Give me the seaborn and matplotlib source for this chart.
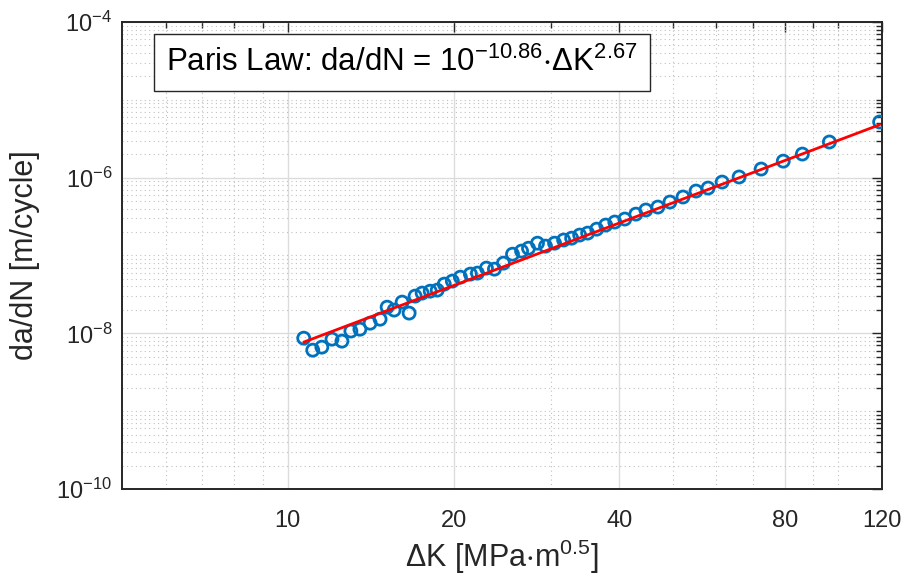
import numpy as np
import pandas as pd
import seaborn as sns
import matplotlib
matplotlib.use("Agg")
import matplotlib.pyplot as plt
from matplotlib.ticker import FixedLocator, NullFormatter, FixedFormatter

# stress intensity factor range [MPa m^0.5]
dK = [10.69, 11.10, 11.53, 12.03, 12.54, 13.02, 13.52, 14.11, 14.71, 15.15,
      15.60, 16.13, 16.61, 17.03, 17.54, 18.14, 18.68, 19.24, 19.90, 20.58,
      21.46, 22.10, 22.95, 23.73, 24.64, 25.59, 26.58, 27.36, 28.41, 29.38,
      30.51, 31.69, 32.77, 33.89, 35.04, 36.39, 37.79, 39.25, 40.93, 42.87,
      44.70, 47.00, 49.43, 52.21, 55.13, 57.98, 61.49, 66.01, 72.39, 79.40,
      86.00, 96.29, 118.8]
# crack growth rate [m/cycle]
dadN = [8.67e-9, 6.08e-9, 6.65e-9, 8.42e-9, 7.94e-9, 1.07e-8, 1.13e-8, 1.35e-8,
        1.52e-8, 2.17e-8, 1.99e-8, 2.52e-8, 1.82e-8, 3.01e-8, 3.29e-8, 3.48e-8,
        3.59e-8, 4.29e-8, 4.69e-8, 5.27e-8, 5.77e-8, 5.94e-8, 6.89e-8, 6.68e-8,
        7.98e-8, 1.04e-7, 1.14e-7, 1.24e-7, 1.44e-7, 1.32e-7, 1.44e-7, 1.58e-7,
        1.67e-7, 1.83e-7, 1.94e-7, 2.18e-7, 2.46e-7, 2.69e-7, 2.94e-7, 3.40e-7,
        3.84e-7, 4.19e-7, 4.86e-7, 5.64e-7, 6.73e-7, 7.35e-7, 8.78e-7, 1.02e-6,
        1.29e-6, 1.63e-6, 2.01e-6, 2.87e-6, 5.19e-6]
# Paris law fit: da/dN = 10^logC * dK^m
logC = -10.86
m = 2.67

xticks = [10, 20, 40, 80, 120]
xminor = [6, 7, 8, 9, 30, 50, 60, 70, 90, 100]
yticks = [1e-10, 1e-8, 1e-6, 1e-4]

sns.set_style("white")
plt.rcParams['font.family'] = ['Liberation Sans', 'DejaVu Sans']
plt.rcParams['mathtext.fontset'] = 'custom'
plt.rcParams['mathtext.rm'] = 'Liberation Sans'
plt.rcParams['mathtext.it'] = 'Liberation Sans:italic'
plt.rcParams['mathtext.default'] = 'regular'

df = pd.DataFrame({"dK": dK, "dadN": dadN})
kfit = np.array([min(dK), max(dK)])
fit = pd.DataFrame({"dK": kfit, "dadN": 10**logC * kfit**m})

fig = plt.figure(figsize=(9.08, 5.83), dpi=100)
ax = fig.add_axes([0.1344, 0.1612, 0.837, 0.8011])
ax.set_xscale("log")
ax.set_yscale("log")

sns.scatterplot(data=df, x="dK", y="dadN", ax=ax, marker="o", s=75,
                facecolors="none", edgecolor="#0072BD", linewidth=2, zorder=3)
sns.lineplot(data=fit, x="dK", y="dadN", ax=ax, color="#FF0000", linewidth=2, zorder=4)

ax.set_xlim(5, 120)
ax.set_ylim(1e-10, 1e-4)

ax.xaxis.set_major_locator(FixedLocator(xticks))
ax.xaxis.set_major_formatter(FixedFormatter([str(t) for t in xticks]))
ax.xaxis.set_minor_locator(FixedLocator(xminor))
ax.xaxis.set_minor_formatter(NullFormatter())

ymin = [k * 10.0**e for e in range(-10, -4) for k in range(1, 10) if not (k == 1 and e % 2 == 0)]
ax.yaxis.set_major_locator(FixedLocator(yticks))
ax.yaxis.set_major_formatter(FixedFormatter([r'$10^{%d}$' % int(np.log10(t)) for t in yticks]))
ax.yaxis.set_minor_locator(FixedLocator(ymin))
ax.yaxis.set_minor_formatter(NullFormatter())

ax.grid(True, which="major", color="#dcdcdc", linewidth=1, linestyle="-")
ax.grid(True, which="minor", color="#c0c0c0", linewidth=0.8, linestyle=(0, (1, 3)))
ax.set_axisbelow(True)

ax.tick_params(which="both", direction="in", top=True, right=True, colors="#262626",
               labelsize=17, width=1)
ax.tick_params(which="major", length=7)
ax.tick_params(which="minor", length=4)
ax.tick_params(axis="x", pad=15)
ax.tick_params(axis="y", pad=7)
for s in ax.spines.values():
    s.set_color("#262626")
    s.set_linewidth(1.4)

ax.set_xlabel(r'$\Delta$K [MPa$\cdot$m$^{0.5}$]', fontsize=22, color="#262626", labelpad=4)
ax.set_ylabel("da/dN [m/cycle]", fontsize=22, color="#262626", labelpad=12)

ax.text(0.058, 0.913, r'Paris Law: da/dN = 10$^{-10.86}$$\cdot$$\Delta$K$^{2.67}$',
        transform=ax.transAxes, fontsize=22.5, va="center", ha="left", color="black",
        bbox=dict(boxstyle="square,pad=0.4", facecolor="white", edgecolor="#262626", linewidth=1))

fig.savefig("out.png", dpi=100)
